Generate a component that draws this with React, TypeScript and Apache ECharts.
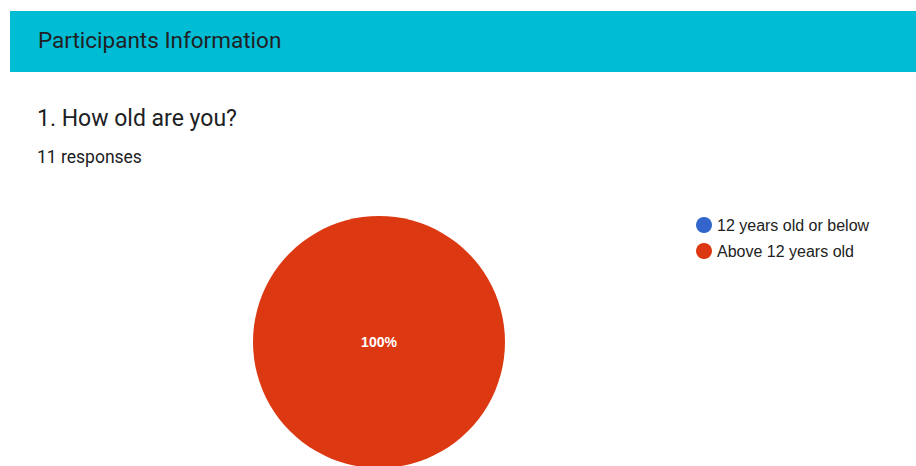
import React, { useEffect, useRef } from "react";
import * as echarts from "echarts";

const categories = ["12 years old or below", "Above 12 years old"];
const responses = [0, 11];
const sliceColors = ["#3366CC", "#DC3912"];

export default function App() {
  const ref = useRef<HTMLDivElement>(null);
  useEffect(() => {
    if (!ref.current) return;
    const chart = echarts.init(ref.current, undefined, { renderer: "svg" });
    chart.setOption({
      animation: false,
      backgroundColor: "#ffffff",
      graphic: [
        {
          type: "rect",
          shape: { x: 10, y: 11, width: 906, height: 61 },
          style: { fill: "#00BCD4" },
        },
        {
          type: "text",
          x: 38,
          y: 40,
          style: {
            text: "Participants Information",
            fill: "#202124",
            font: "22.5px Roboto, sans-serif",
            verticalAlign: "middle",
          },
        },
        {
          type: "text",
          x: 37,
          y: 118,
          style: {
            text: "1. How old are you?",
            fill: "#202124",
            font: "23px Roboto, sans-serif",
            verticalAlign: "middle",
          },
        },
        {
          type: "text",
          x: 37,
          y: 157,
          style: {
            text: "11 responses",
            fill: "#202124",
            font: "17.5px Roboto, sans-serif",
            verticalAlign: "middle",
          },
        },
      ],
      legend: {
        orient: "vertical",
        left: 691,
        top: 212,
        icon: "circle",
        itemWidth: 16,
        itemHeight: 16,
        itemGap: 10,
        data: categories,
        textStyle: {
          fontSize: 16,
          color: "#222222",
          fontFamily: "Liberation Sans",
        },
      },
      series: [
        {
          type: "pie",
          center: [379, 342],
          radius: 126,
          startAngle: 90,
          clockwise: true,
          color: sliceColors,
          label: {
            show: true,
            position: "center",
            color: "#ffffff",
            fontSize: 14,
            fontWeight: "bold",
            fontFamily: "Liberation Sans",
            formatter: (p: any) => (p.percent > 0 ? `${Math.round(p.percent)}%` : ""),
          },
          labelLine: { show: false },
          emphasis: { disabled: true },
          itemStyle: { borderWidth: 0 },
          data: categories.map((name, i) => ({ name, value: responses[i] })),
        },
      ],
    });
    return () => chart.dispose();
  }, []);
  return (
    <div
      ref={ref}
      style={{ position: "fixed", left: 0, top: 0, width: 916, height: 466 }}
    />
  );
}
